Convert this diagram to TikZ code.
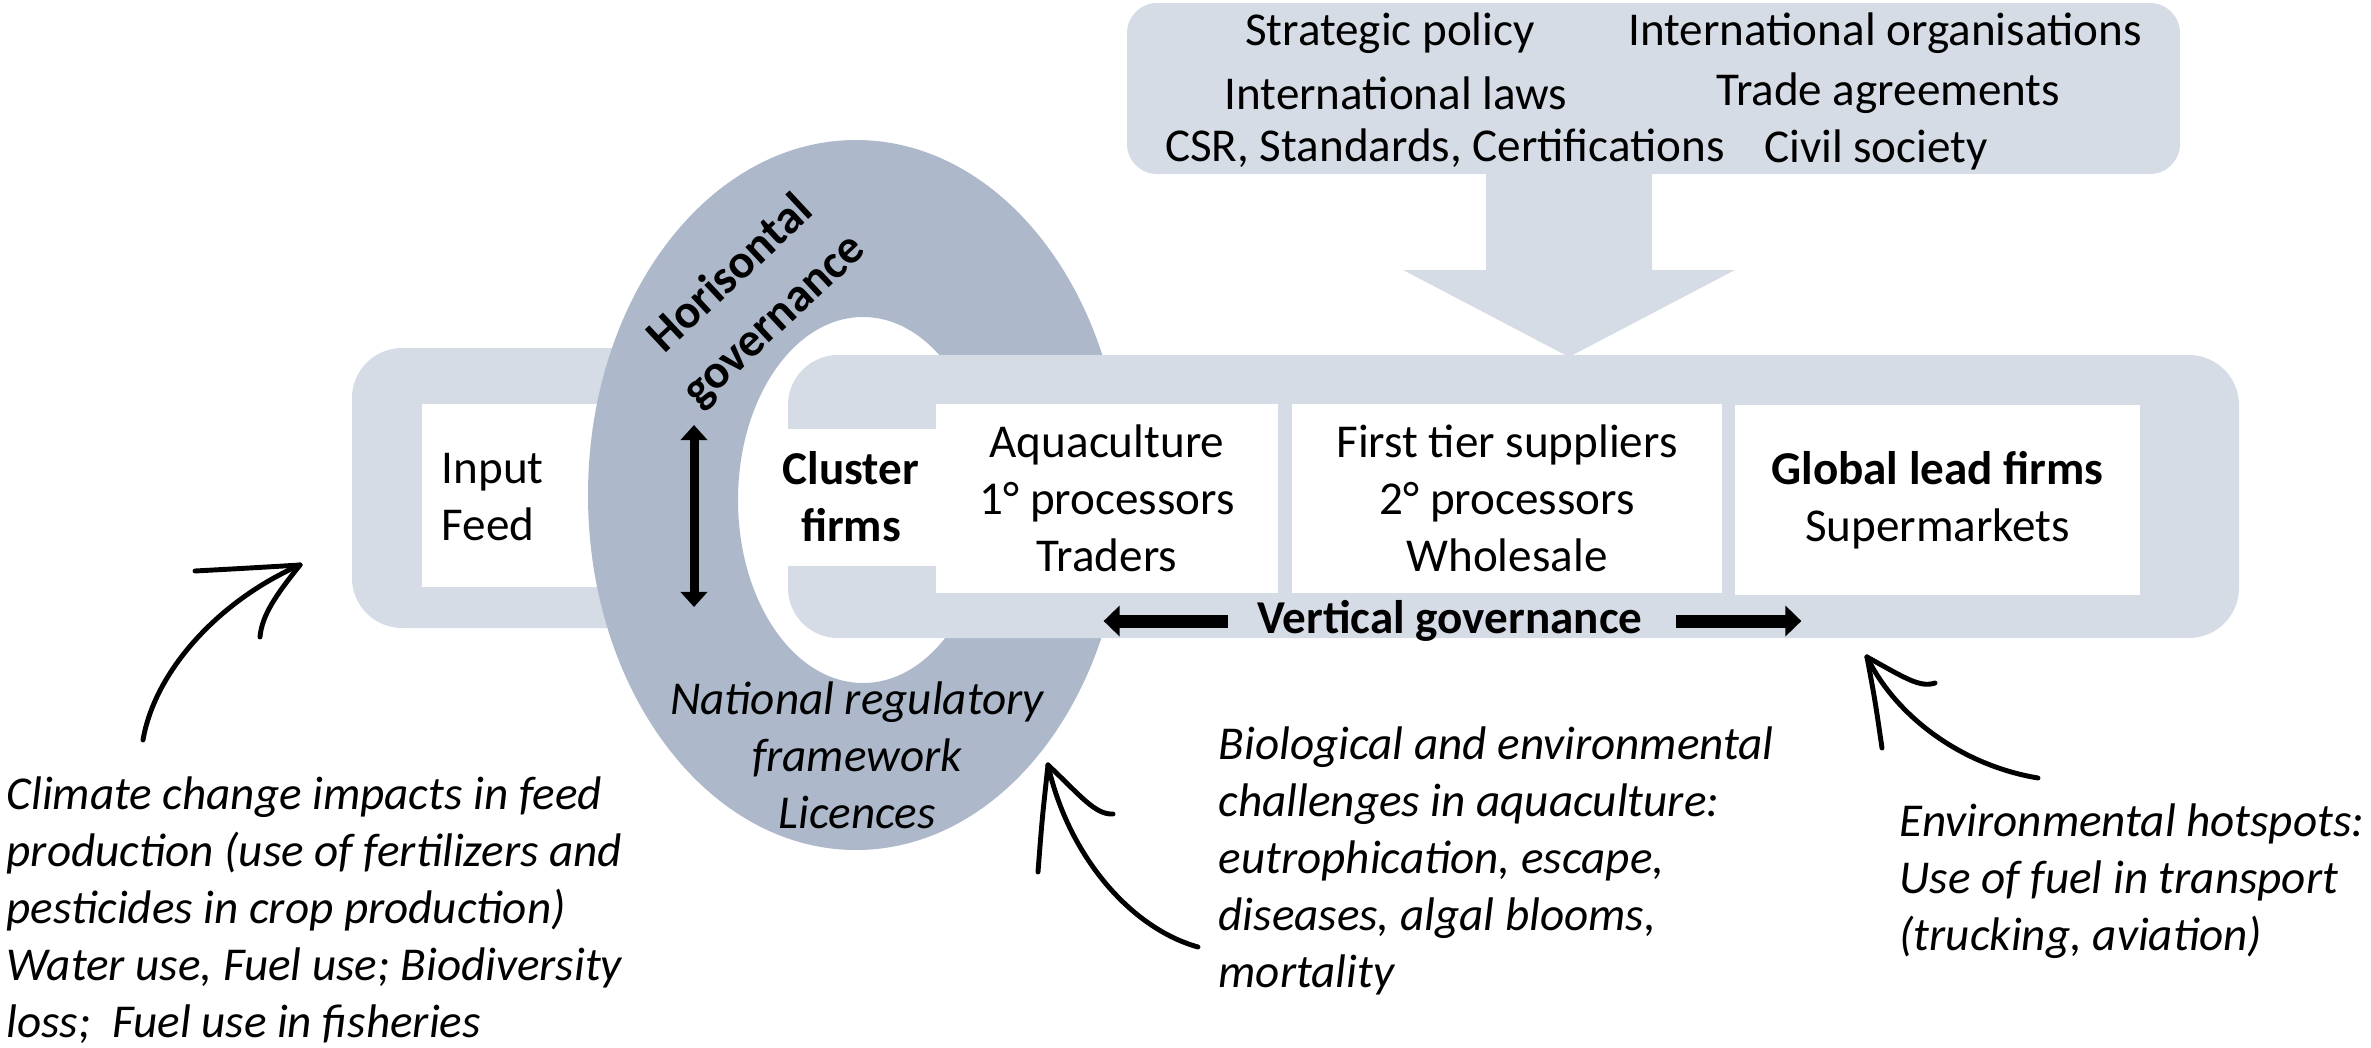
\documentclass[tikz,border=0pt]{standalone}
\usepackage{fontspec}
\setmainfont{Carlito}
\usepackage{tikz}
\usetikzlibrary{arrows.meta}
\usetikzlibrary{calc}
\definecolor{barfill}{HTML}{D6DCE5}
\definecolor{ringfill}{HTML}{ADB9CA}
\newcommand{\chainfont}{\fontsize{13.4pt}{16.2pt}\selectfont}
\tikzstyle{band}=[fill=barfill, rounded corners=0.5cm]
\tikzstyle{chainbox}=[fill=white, inner sep=0pt, align=center, font=\chainfont]
\tikzstyle{txt}=[inner sep=0pt, font=\chainfont]
\tikzstyle{note}=[inner sep=0pt, font=\chainfont\itshape, align=left, anchor=north west]
\tikzstyle{govarrow}=[draw, line width=0.13cm, -{Triangle[width=0.3cm,length=0.16cm]}]
\tikzstyle{handarrow}=[draw, line width=1.4pt, line cap=round, line join=round]

\begin{document}
\begin{tikzpicture}[x=0.01cm, y=-0.01cm]
    \useasboundingbox (0,0) rectangle (2371,1048);

    % Policy box on top and its block arrow
    \fill[barfill, rounded corners=0.3cm] (1127,3) rectangle (2180,174);
    \fill[barfill] (1486,170) -- (1652,170) -- (1652,270) -- (1735,270)
        -- (1569,357) -- (1403,270) -- (1486,270) -- cycle;
    \foreach \pos/ \name/ \txt in {{(1390,33)/strat/Strategic policy},
        {(1885,33)/intorg/International organisations},
        {(1396,93)/intlaw/International laws},
        {(1888,93)/trade/Trade agreements},
        {(1445,148)/csr/{CSR, Standards, Certifications}},
        {(1876,150)/civil/Civil society}}
        \node[txt] (\name) at \pos {\txt};

    % Input bar goes under the ring
    \fill[band] (352,348) rectangle (700,628);
    \fill[white] (422,404) rectangle (700,587);
    \node[txt, align=left, anchor=west] (input) at (441,497) {Input\\Feed};

    % The ring
    \fill[ringfill, even odd rule] (856,495) ellipse [x radius=268, y radius=355]
        (863,500) ellipse [x radius=125, y radius=183];
    \node[txt, align=center, font=\fontsize{13.6pt}{18pt}\selectfont\bfseries, rotate=43] (horiz) at (753,298)
        {Horisontal\\governance};
    \coordinate (hgtop) at (694,425);
    \coordinate (hgbot) at (694,607);
    \draw[line width=0.09cm, {Triangle[width=0.26cm,length=0.15cm]}-{Triangle[width=0.26cm,length=0.15cm]}]
        (hgtop) -- (hgbot);

    % Chain bar goes over the ring
    \fill[band] (788,355) rectangle (2239,638);
    \fill[white] (780,429) rectangle (940,566);
    \node[txt, align=center, font=\chainfont\bfseries] (cluster) at (851,497) {Cluster\\firms};
    \foreach \pos/ \name/ \bw/ \txt in {{(1107,498.5)/aqua/3.42cm/{Aquaculture\\1° processors\\Traders}},
        {(1507,498.5)/tier/4.30cm/{First tier suppliers\\2° processors\\Wholesale}},
        {(1937.5,500)/lead/4.05cm/{\textbf{Global lead firms}\\Supermarkets}}}
        \node[chainbox, minimum width=\bw, minimum height=1.89cm] (\name) at \pos {\txt};

    \node[txt, font=\chainfont\bfseries] (vert) at (1450,621) {Vertical governance};
    \draw[govarrow] ([xshift=-0.29cm]vert.west) -- ([xshift=-1.53cm]vert.west);
    \draw[govarrow] ([xshift=0.33cm]vert.east) -- ([xshift=1.58cm]vert.east);

    % Notes under the chain
    \node[note] (climate) at (6,776) {Climate change impacts in feed\\production (use of fertilizers and\\pesticides in crop production)\\Water use, Fuel use; Biodiversity\\loss;~ Fuel use in fisheries};
    \node[note, align=center, anchor=north] (natl) at (857,681) {National regulatory\\framework\\Licences};
    \node[note] (bio) at (1218,726) {Biological and environmental\\challenges in aquaculture:\\eutrophication, escape,\\diseases, algal blooms,\\mortality};
    \node[note] (hot) at (1899,803) {Environmental hotspots:\\Use of fuel in transport\\(trucking, aviation)};

    % Hand drawn arrows
    \coordinate (feedtip) at (300,565);
    \coordinate (feedtail) at (143,740);
    \draw[handarrow] (feedtail) .. controls (155,670) and (220,600) .. (feedtip);
    \draw[handarrow] (feedtip) .. controls (250,568) .. (195,571);
    \draw[handarrow] (feedtip) .. controls (276,595) and (262,615) .. (260,637);

    \coordinate (biotip) at (1048,765);
    \coordinate (biotail) at (1198,947);
    \draw[handarrow] (biotail) .. controls (1130,928) and (1068,855) .. (biotip);
    \draw[handarrow] (biotip) .. controls (1080,795) and (1095,815) .. (1113,814);
    \draw[handarrow] (biotip) .. controls (1042,820) .. (1038,872);

    \coordinate (hottip) at (1867,657);
    \coordinate (hottail) at (2038,778);
    \draw[handarrow] (hottail) .. controls (1960,765) and (1895,715) .. (hottip);
    \draw[handarrow] (hottip) .. controls (1905,678) and (1920,688) .. (1935,683);
    \draw[handarrow] (hottip) .. controls (1875,700) .. (1882,748);

\end{tikzpicture}
\end{document}
